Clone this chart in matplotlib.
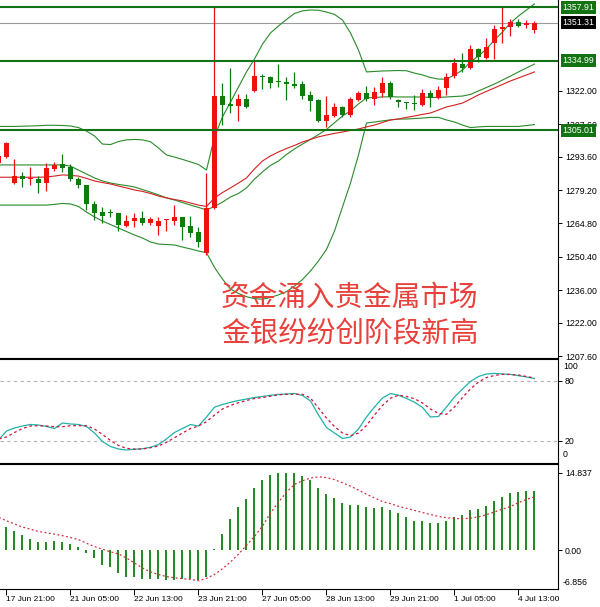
import numpy as np
import matplotlib.pyplot as plt
from matplotlib.transforms import blended_transform_factory

plt.rcParams['font.family'] = ['Liberation Sans', 'Noto Sans CJK SC']

# 4-hour candles, index -1 is the partly hidden one at the left edge
bar_idx = list(range(-1, 67))

opens = [1291.0, 1293.6, 1282.4, 1285.2, 1283.8, 1283.9, 1282.1, 1288.4, 1290.4, 1289.3,
         1283.8, 1281.2, 1273.0, 1269.7, 1269.7, 1269.2, 1263.7, 1265.7, 1267.0, 1264.9,
         1263.7, 1266.1, 1266.0, 1267.4, 1263.7, 1261.0, 1251.9, 1271.3, 1319.7, 1316.1,
         1315.4, 1318.4, 1322.0, 1328.3, 1327.8, 1326.1, 1325.9, 1324.9, 1324.9, 1320.0,
         1318.0, 1309.1, 1311.1, 1314.8, 1311.5, 1318.0, 1320.9, 1318.6, 1320.9, 1325.5,
         1318.0, 1317.1, 1316.8, 1315.8, 1320.9, 1318.7, 1323.0, 1328.3, 1333.5, 1331.7,
         1339.9, 1336.0, 1342.4, 1348.5, 1349.3, 1351.7, 1350.3, 1348.2]
highs = [1294.7, 1300.0, 1292.4, 1286.8, 1289.3, 1285.2, 1291.0, 1291.4, 1294.7, 1290.4,
         1284.9, 1281.5, 1274.6, 1271.7, 1271.1, 1269.4, 1268.3, 1269.2, 1270.3, 1267.7,
         1267.4, 1266.6, 1272.7, 1267.7, 1268.0, 1263.4, 1286.4, 1357.9, 1325.2, 1331.7,
         1320.6, 1320.5, 1335.2, 1329.2, 1328.3, 1333.5, 1327.8, 1330.2, 1326.2, 1322.0,
         1318.6, 1319.7, 1316.6, 1315.4, 1319.4, 1322.0, 1324.0, 1323.5, 1328.0, 1326.3,
         1318.3, 1317.3, 1320.1, 1322.6, 1322.3, 1324.0, 1329.8, 1336.0, 1338.4, 1341.7,
         1340.3, 1344.6, 1350.3, 1357.9, 1352.8, 1352.8, 1352.5, 1352.2]
lows = [1290.4, 1293.1, 1281.7, 1280.6, 1281.4, 1278.0, 1278.9, 1287.5, 1287.1, 1283.2,
        1280.2, 1270.6, 1266.3, 1264.9, 1267.7, 1261.7, 1263.4, 1263.4, 1264.0, 1264.1,
        1259.8, 1261.7, 1264.1, 1257.7, 1259.1, 1254.8, 1251.2, 1270.9, 1307.2, 1312.3,
        1309.1, 1314.4, 1321.6, 1322.6, 1323.0, 1323.5, 1318.0, 1323.0, 1318.3, 1313.4,
        1308.6, 1306.5, 1310.5, 1310.5, 1310.8, 1317.7, 1317.7, 1315.8, 1319.4, 1318.3,
        1314.8, 1314.0, 1313.7, 1315.4, 1314.8, 1318.3, 1320.1, 1327.3, 1330.2, 1331.2,
        1334.5, 1335.5, 1335.5, 1342.7, 1345.6, 1349.3, 1348.9, 1347.0]
closes = [1294.0, 1299.3, 1285.2, 1283.8, 1284.1, 1282.1, 1288.6, 1289.9, 1288.8, 1283.8,
          1281.2, 1273.0, 1269.4, 1268.1, 1269.2, 1264.0, 1265.8, 1267.1, 1264.9, 1266.7,
          1265.8, 1266.4, 1267.7, 1263.4, 1260.8, 1256.9, 1271.3, 1319.7, 1315.8, 1315.4,
          1318.3, 1315.1, 1328.3, 1327.8, 1325.5, 1325.6, 1324.9, 1324.0, 1319.7, 1317.7,
          1309.1, 1311.5, 1314.8, 1311.5, 1318.4, 1321.1, 1318.3, 1321.5, 1325.5, 1319.4,
          1317.3, 1316.8, 1316.3, 1320.9, 1318.7, 1322.3, 1328.0, 1334.1, 1331.7, 1339.9,
          1336.4, 1340.7, 1348.5, 1349.3, 1351.7, 1349.9, 1351.1, 1351.3]

upper_band = [1306.6, 1306.6, 1306.6, 1306.7, 1306.8, 1306.9, 1307.1, 1307.1, 1307.0, 1306.8,
              1306.1, 1304.6, 1302.5, 1299.0, 1298.8, 1300.1, 1300.8, 1301.0, 1300.8, 1300.0,
              1297.3, 1294.3, 1293.4, 1292.4, 1291.3, 1290.2, 1287.8, 1302.1, 1310.7, 1317.1,
              1323.6, 1330.1, 1335.7, 1342.1, 1346.9, 1349.9, 1352.7, 1355.3, 1356.4, 1356.8,
              1356.7, 1355.9, 1354.9, 1352.5, 1346.9, 1339.5, 1330.1, 1330.3, 1330.5, 1330.6,
              1330.7, 1330.6, 1329.6, 1328.8, 1327.7, 1327.0, 1327.0, 1328.8, 1330.9, 1334.4,
              1337.0, 1340.0, 1343.9, 1347.3, 1351.2, 1354.2, 1356.8, 1359.4]
mid_band = [1290.0, 1290.0, 1290.0, 1290.0, 1290.0, 1290.0, 1290.0, 1290.0, 1290.0, 1289.5,
            1287.8, 1286.1, 1284.4, 1283.1, 1282.2, 1281.6, 1281.1, 1280.5, 1279.4, 1278.3,
            1277.1, 1275.8, 1274.9, 1273.8, 1272.7, 1271.7, 1270.6, 1272.1, 1274.0, 1276.2,
            1277.7, 1280.1, 1283.9, 1287.0, 1289.8, 1291.7, 1294.5, 1296.9, 1299.0, 1301.0,
            1303.1, 1305.3, 1308.2, 1311.1, 1313.3, 1316.3, 1318.9, 1319.1, 1319.3, 1319.4,
            1319.3, 1319.3, 1319.3, 1319.3, 1319.1, 1319.1, 1319.3, 1319.5, 1319.7, 1320.4,
            1321.9, 1323.4, 1324.9, 1326.6, 1328.3, 1330.1, 1331.8, 1333.5]
lower_band = [1272.7, 1272.7, 1272.7, 1272.7, 1272.7, 1272.7, 1272.7, 1273.0, 1273.4, 1273.2,
              1272.1, 1269.7, 1267.6, 1265.8, 1264.3, 1262.8, 1261.3, 1259.8, 1258.5, 1256.8,
              1255.9, 1255.7, 1255.5, 1254.6, 1253.8, 1252.9, 1252.2, 1245.8, 1240.8, 1236.5,
              1234.6, 1233.2, 1232.4, 1232.1, 1232.9, 1234.0, 1235.4, 1237.8, 1240.6, 1244.3,
              1248.6, 1253.6, 1261.5, 1271.9, 1282.2, 1294.3, 1308.1, 1308.5, 1309.0, 1309.4,
              1309.8, 1309.8, 1310.0, 1310.2, 1310.5, 1310.5, 1309.4, 1308.5, 1307.2, 1306.1,
              1306.4, 1306.6, 1306.6, 1306.6, 1306.6, 1306.6, 1307.0, 1307.4]
red_ma = [1284.7, 1284.7, 1284.7, 1284.7, 1284.7, 1284.7, 1284.8, 1285.2, 1285.7, 1285.5,
          1285.2, 1284.2, 1283.1, 1282.4, 1281.8, 1280.9, 1280.1, 1279.2, 1278.6, 1277.7,
          1276.6, 1275.8, 1275.1, 1274.5, 1273.6, 1272.7, 1272.1, 1275.8, 1278.1, 1280.1,
          1282.2, 1284.4, 1288.3, 1291.7, 1293.9, 1295.6, 1297.1, 1298.4, 1299.9, 1301.0,
          1302.1, 1302.9, 1303.6, 1304.2, 1304.9, 1305.5, 1306.4, 1307.2, 1308.3, 1309.4,
          1309.8, 1310.5, 1311.1, 1311.8, 1312.4, 1313.7, 1315.0, 1315.8, 1316.7, 1318.4,
          1320.2, 1321.7, 1323.2, 1324.7, 1326.2, 1327.5, 1328.8, 1330.1]

stoch_k = [21, 30, 33, 35, 36.5, 36, 34.5, 32.5, 38, 37,
           36.5, 34.5, 28, 19.5, 14.5, 12, 11, 11.8, 12.3, 13.7,
           16.5, 22, 28.5, 32.5, 36.5, 35, 44, 53.8, 56.5, 58.7,
           60.5, 62, 63.5, 64.5, 65.7, 66.6, 67, 67.5, 65.5, 60,
           46, 33.5, 28, 22.5, 24, 32, 44, 54, 63, 67.5,
           65.8, 62.5, 58.8, 53.5, 44, 44.5, 54, 64, 72, 79.5,
           84.5, 87, 87.6, 87, 86.6, 85.3, 84, 82.5]
stoch_d = [22, 24, 28.5, 32.5, 35, 35.3, 35, 34.3, 34.3, 35.3,
           35.3, 35.3, 32, 26.5, 20.5, 15.5, 12.7, 11.8, 12, 13.3,
           15, 18.7, 23.3, 28, 32.5, 35, 39.3, 46, 52, 55.5,
           58.3, 60.5, 62.5, 63.5, 64.8, 66.2, 66.7, 66.7, 66.7, 63,
           53, 43, 34.5, 28, 25.3, 28, 35.5, 46, 55.5, 62.8,
           65.8, 64.5, 62.3, 58, 52, 47.5, 46.7, 54, 63.5, 72,
           79, 83.5, 85.5, 86.7, 86.5, 86, 84.5, 83]

macd_hist = [5.2, 4.47, 3.71, 2.88, 2.11, 1.60, 1.60, 1.79, 1.60, 1.15,
             0.64, -0.55, -1.60, -2.88, -3.33, -4.48, -5.12, -5.25, -5.5, -5.6,
             -5.6, -5.7, -5.7, -5.6, -5.6, -5.7, -5.25, 0.15, 3.07, 5.89,
             8.32, 9.72, 11.84, 13.44, 14.40, 14.72, 14.84, 14.72, 14.20, 13.44,
             11.84, 10.69, 10.04, 9.08, 8.64, 8.64, 8.32, 8.00, 8.19, 7.68,
             7.04, 6.28, 5.57, 5.57, 5.24, 5.24, 5.57, 6.28, 6.72, 7.68,
             7.87, 8.45, 9.40, 10.11, 10.88, 11.13, 11.32, 11.38]
macd_signal = [6.3, 5.6, 5.0, 4.4, 4.0, 3.55, 3.3, 3.05, 2.75, 2.4,
               2.0, 1.3, 0.65, 0.15, -0.35, -0.75, -1.55, -2.5, -3.45, -4.2,
               -4.7, -5.1, -5.35, -5.5, -5.65, -5.89, -5.44, -4.7, -3.6, -2.3,
               -0.8, 0.9, 2.6, 4.6, 7.1, 9.2, 11.1, 12.6, 13.3, 13.8,
               14.05, 13.9, 13.5, 12.9, 12.25, 11.5, 10.7, 10.0, 9.3, 8.9,
               8.4, 8.0, 7.6, 7.2, 6.8, 6.45, 6.2, 6.05, 6.0, 6.1,
               6.35, 6.8, 7.3, 7.85, 8.35, 9.1, 9.7, 10.2]

time_ticks = [0, 8, 16, 24, 32, 40, 48, 56, 64]
time_labels = ['17 Jun 21:00', '21 Jun 05:00', '22 Jun 13:00', '23 Jun 21:00', '27 Jun 05:00',
               '28 Jun 13:00', '29 Jun 21:00', '1 Jul 05:00', '4 Jul 13:00']

price_ticks = [1322.00, 1307.60, 1293.60, 1279.20, 1264.80, 1250.40, 1236.00, 1222.00, 1207.60]
level_prices = [1357.91, 1334.99, 1305.01]
last_price = 1351.31

headline = ['资金涌入贵金属市场', '金银纷纷创阶段新高']

UP = '#ee1111'
DOWN = '#107c10'
LEVEL = '#137313'
BAND = '#2a8a2a'
FS = 6.3

W, H = 600, 607
fig = plt.figure(figsize=(W / 100, H / 100), dpi=100)


def panel(y0, y1):
    return fig.add_axes([0, 1 - y1 / H, 558 / W, (y1 - y0) / H])


ax = panel(0, 357.5)
ax_st = panel(359, 462.5)
ax_md = panel(464, 588.5)

xlim = (-0.8125, 68.94)
for a in (ax, ax_st, ax_md):
    a.set_xlim(*xlim)
    a.set_facecolor('white')
    a.spines['left'].set_visible(False)
    for s in ('top', 'bottom', 'right'):
        a.spines[s].set_color('black')
        a.spines[s].set_linewidth(0.8)
    a.yaxis.tick_right()
    a.tick_params(axis='y', length=3, width=0.7, pad=2, labelsize=FS)
ax.spines['top'].set_visible(False)

# main price panel
o = np.array(opens)
c = np.array(closes)
cols = [UP if cc >= oo else DOWN for oo, cc in zip(o, c)]
ax.vlines(bar_idx, lows, highs, colors=cols, lw=0.9, zorder=3)
ax.bar(bar_idx, np.maximum(np.abs(c - o), 0.45), bottom=np.minimum(o, c),
       width=0.56, color=cols, linewidth=0, zorder=3)

ax.plot(bar_idx, upper_band, color=BAND, lw=0.8, zorder=2)
ax.plot(bar_idx, mid_band, color=BAND, lw=0.8, zorder=2)
ax.plot(bar_idx, lower_band, color=BAND, lw=0.8, zorder=2)
ax.plot(bar_idx, red_ma, color='#d42020', lw=0.8, zorder=2)

for p in level_prices:
    ax.axhline(p, color=LEVEL, lw=1.5, zorder=4)
ax.axhline(last_price, color='#9a9a9a', lw=0.8, zorder=1)

ax.set_ylim(1207.0, 1361.1)
ax.set_xticks([])
ax.set_yticks(price_ticks)
ax.set_yticklabels([f'{v:.2f}' for v in price_ticks])

tr = blended_transform_factory(ax.transAxes, ax.transData)
for p in level_prices:
    ax.text(1 + 4.5 / 558, p, f'{p:.2f}', transform=tr, ha='left', va='center',
            fontsize=FS, color='white', clip_on=False, zorder=10,
            bbox=dict(boxstyle='square,pad=0.22', fc=LEVEL, ec='none'))
ax.text(1 + 4.5 / 558, last_price, f'{last_price:.2f}', transform=tr, ha='left',
        va='center', fontsize=FS, color='white', clip_on=False, zorder=10,
        bbox=dict(boxstyle='square,pad=0.22', fc='black', ec='none'))

for line, yc in zip(headline, (298, 333)):
    fig.text(221 / W, 1 - yc / H, line, fontsize=20.6, color='#e8413c',
             family=['Noto Sans CJK SC'], weight='light', ha='left', va='center')

# stochastic panel
ax_st.axhline(80, color='#b4b4b4', lw=0.8, dashes=(3, 3))
ax_st.axhline(20, color='#b4b4b4', lw=0.8, dashes=(3, 3))
ax_st.plot(bar_idx, stoch_k, color='#20b2aa', lw=0.9)
ax_st.plot(bar_idx, stoch_d, color='#d0143c', lw=0.9, dashes=(2.2, 2.2))
ax_st.set_ylim(-1.5, 102)
ax_st.set_xticks([])
ax_st.set_yticks([80, 20])
ax_st.set_yticklabels(['80', '20'])
tr_st = blended_transform_factory(ax_st.transAxes, ax_st.transData)
ax_st.text(1 + 5 / 558, 94.3, '100', transform=tr_st, ha='left', va='center',
           fontsize=FS, clip_on=False)
ax_st.text(1 + 5 / 558, 6.7, '0', transform=tr_st, ha='left', va='center',
           fontsize=FS, clip_on=False)

# MACD panel
ax_md.vlines(bar_idx, 0, macd_hist, color='#147a14', lw=1.3)
ax_md.plot(bar_idx, macd_signal, color='#d42c3c', lw=0.9, dashes=(1.5, 2))
ax_md.set_ylim(-7.39, 16.51)
ax_md.set_yticks([14.837, 0])
ax_md.set_yticklabels(['14.837', '0.00'])
tr_md = blended_transform_factory(ax_md.transAxes, ax_md.transData)
ax_md.text(1 + 5 / 558, -6.28, '-6.856', transform=tr_md, ha='left', va='center',
           fontsize=FS, clip_on=False)
ax_md.set_xticks(time_ticks)
ax_md.set_xticklabels(time_labels, ha='left')
ax_md.tick_params(axis='x', length=4, width=0.7, pad=1.5, labelsize=6)

fig.savefig('out.png', dpi=100)
